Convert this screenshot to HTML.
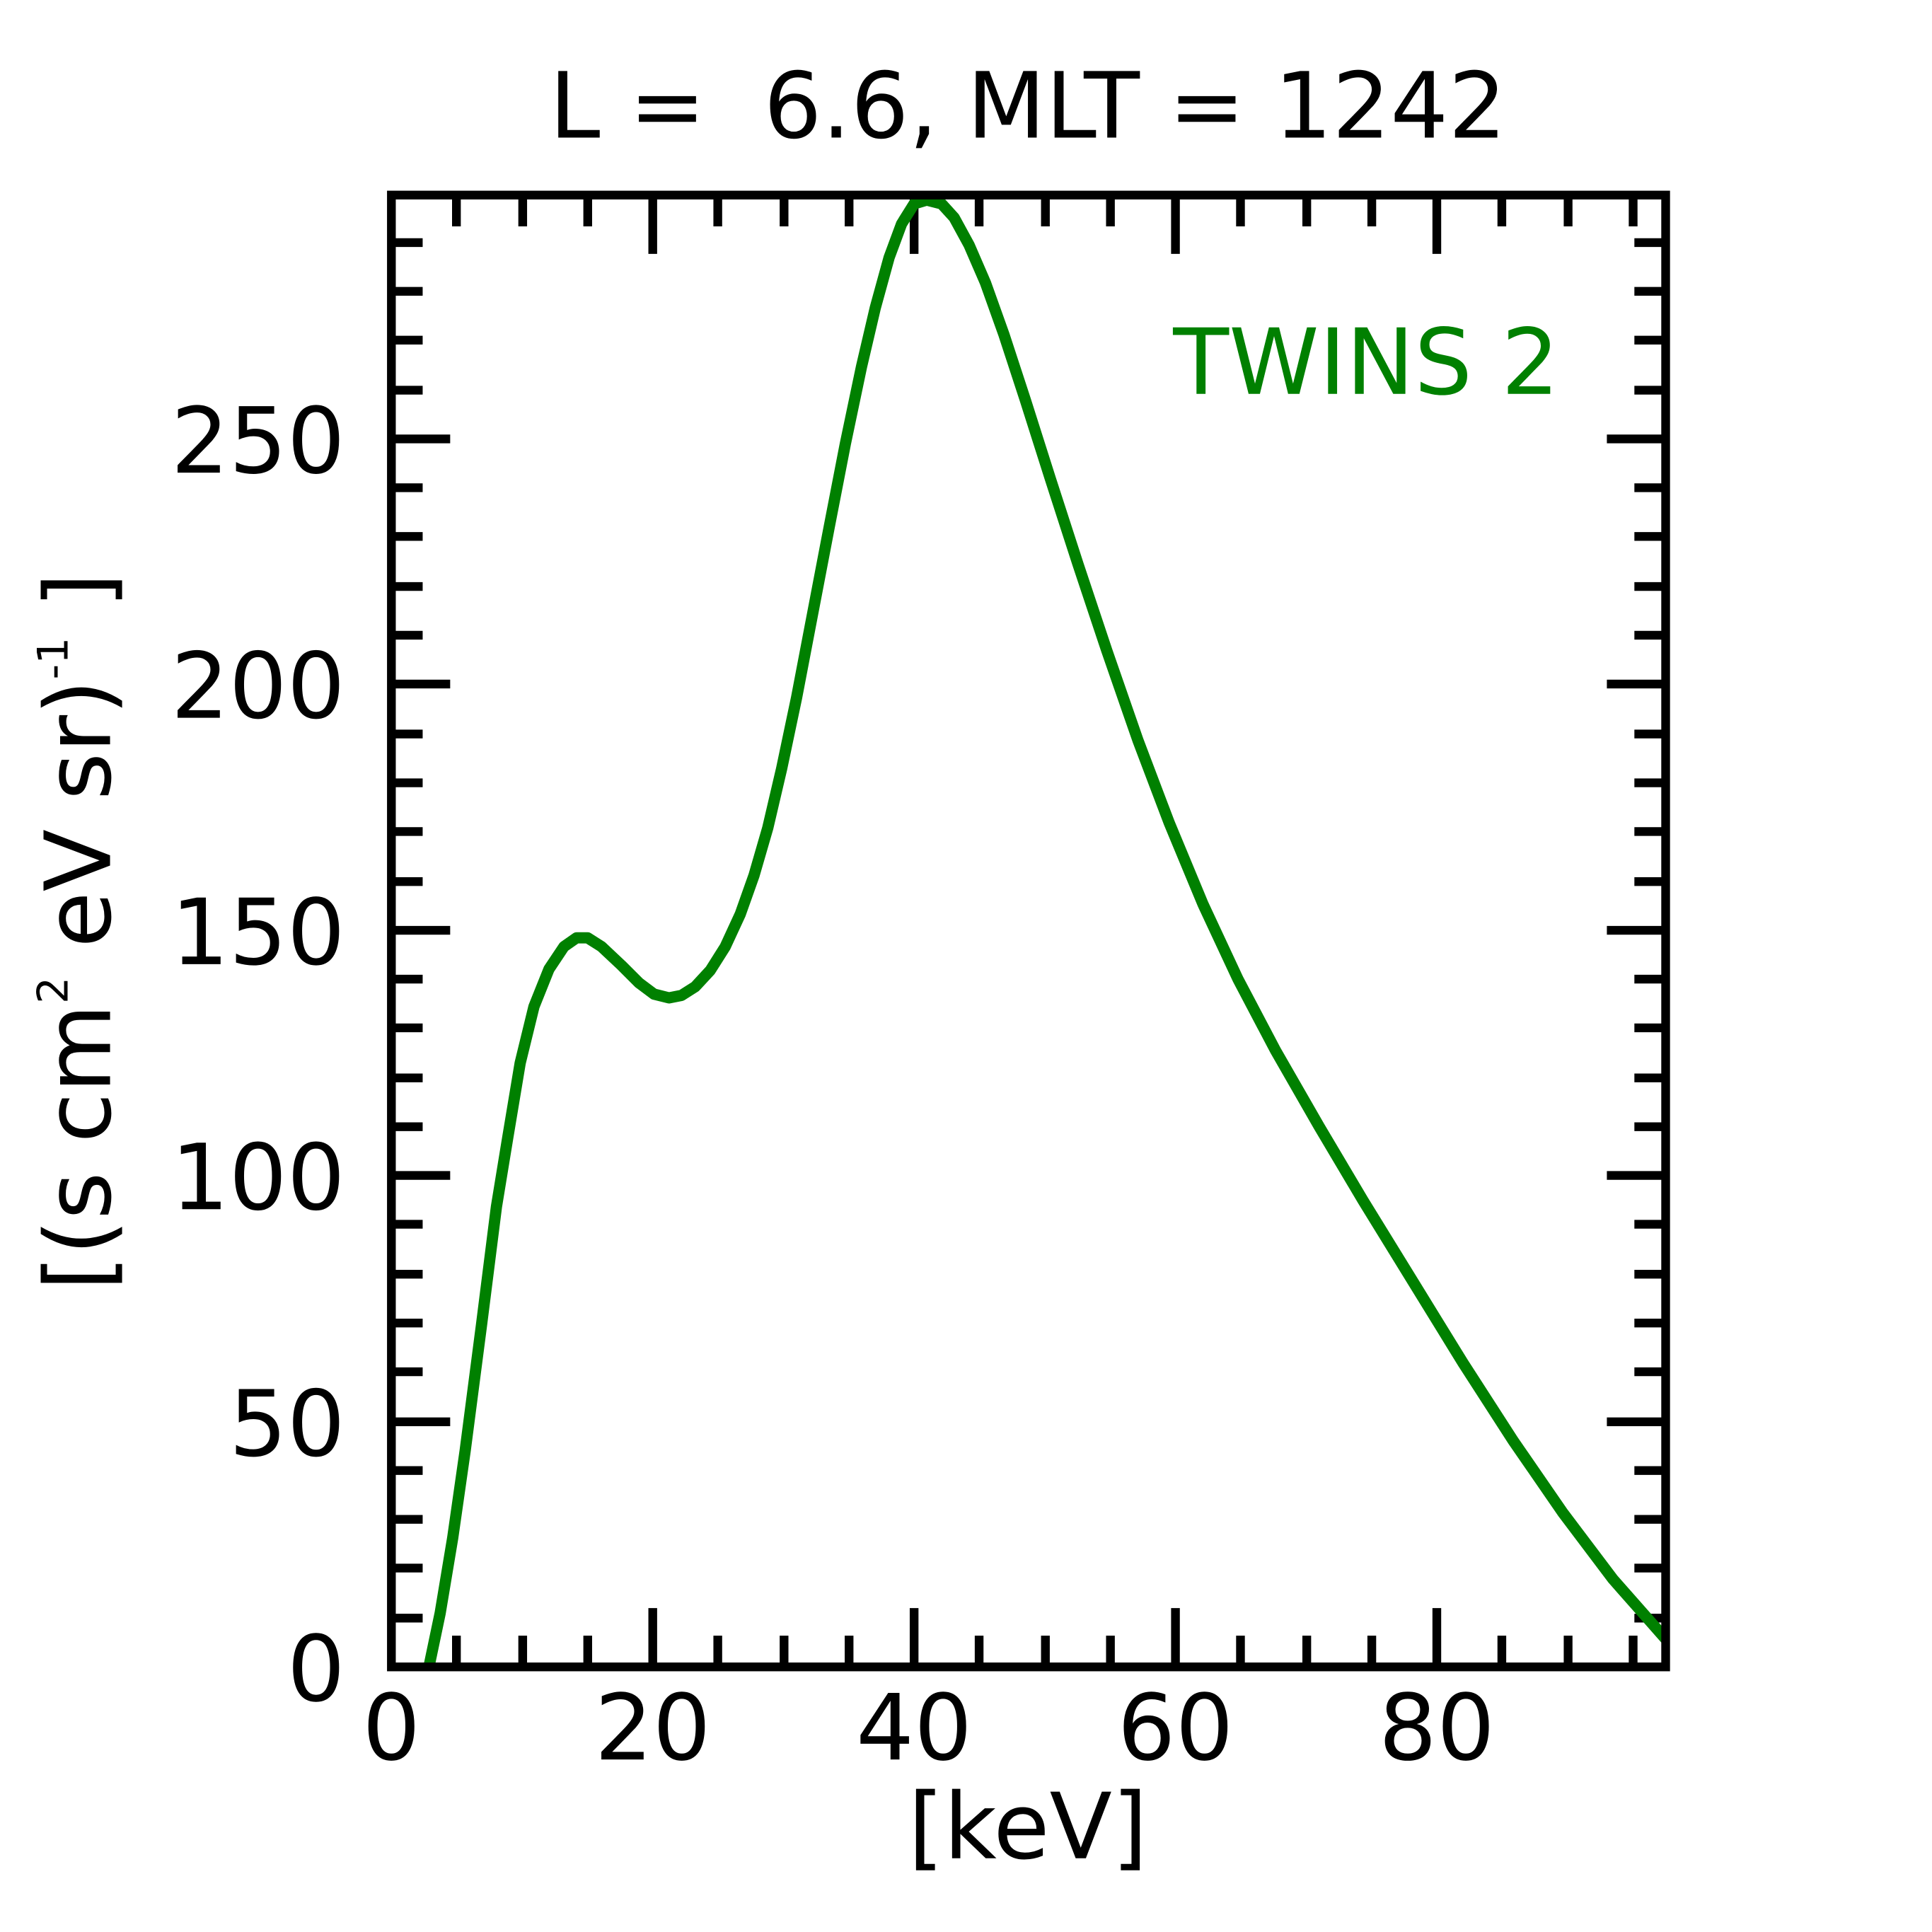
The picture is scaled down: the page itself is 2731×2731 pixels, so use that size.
<!DOCTYPE html>
<html><head><meta charset="utf-8"><style>html,body{margin:0;padding:0;background:#fff}svg{display:block}</style></head>
<body>
<svg width="2731" height="2731" viewBox="0 0 1545 1545" xmlns="http://www.w3.org/2000/svg" font-family="'DejaVu Sans','Liberation Sans',sans-serif">
<rect width="1545" height="1545" fill="#fff"/>
<defs><clipPath id="c"><rect x="313" y="156" width="1019" height="1177"/></clipPath></defs>
<g stroke="#000" stroke-width="7">
<path d="M522,1333V1286M731,1333V1286M940,1333V1286M1149,1333V1286M522,156V203M731,156V203M940,156V203M1149,156V203"/>
<path d="M365,1333V1308M418,1333V1308M470,1333V1308M574,1333V1308M627,1333V1308M679,1333V1308M783,1333V1308M836,1333V1308M888,1333V1308M992,1333V1308M1045,1333V1308M1097,1333V1308M1201,1333V1308M1254,1333V1308M1306,1333V1308
M365,156V181M418,156V181M470,156V181M574,156V181M627,156V181M679,156V181M783,156V181M836,156V181M888,156V181M992,156V181M1045,156V181M1097,156V181M1201,156V181M1254,156V181M1306,156V181"/>
<path d="M313,1137H360M313,940H360M313,744H360M313,547H360M313,351H360M1332,1137H1285M1332,940H1285M1332,744H1285M1332,547H1285M1332,351H1285"/>
<path d="M313,1294H338M313,1254H338M313,1215H338M313,1176H338M313,1097H338M313,1058H338M313,1019H338M313,979H338M313,901H338M313,862H338M313,822H338M313,783H338M313,705H338M313,665H338M313,626H338M313,587H338M313,508H338M313,469H338M313,429H338M313,390H338M313,312H338M313,272H338M313,233H338M313,194H338
M1332,1294H1307M1332,1254H1307M1332,1215H1307M1332,1176H1307M1332,1097H1307M1332,1058H1307M1332,1019H1307M1332,979H1307M1332,901H1307M1332,862H1307M1332,822H1307M1332,783H1307M1332,705H1307M1332,665H1307M1332,626H1307M1332,587H1307M1332,508H1307M1332,469H1307M1332,429H1307M1332,390H1307M1332,312H1307M1332,272H1307M1332,233H1307M1332,194H1307"/>
</g>
<polyline clip-path="url(#c)" fill="none" stroke="#008000" stroke-width="9" stroke-linejoin="round" points="343,1333 352,1290 362,1230 372,1160 385,1060 397,965 406,910 416,850 427,805 439,775 451,757 461,750 470,750 481,757 497,772 511,786 523,795 535,798 545,796 556,789 568,776 580,757 592,731 603,700 614,662 625,615 637,558 650,490 663,422 676,355 689,293 700,246 711,206 721,179 731,163 741,160 753,163 763,174 775,196 788,226 803,268 820,320 840,383 862,451 885,520 910,592 935,658 962,723 990,783 1020,840 1055,901 1090,960 1130,1025 1170,1090 1210,1152 1250,1210 1290,1263 1335,1314"/>
<rect x="313" y="156" width="1019" height="1177" fill="none" stroke="#000" stroke-width="7"/>
<g font-size="73" fill="#000">
<text x="822" y="110" text-anchor="middle">L =&#160; 6.6, MLT = 1242</text>
<g text-anchor="middle">
<text x="313" y="1407">0</text><text x="522" y="1407">20</text><text x="731" y="1407">40</text><text x="940" y="1407">60</text><text x="1149" y="1407">80</text>
</g>
<text x="822" y="1486" text-anchor="middle">[keV]</text>
<g text-anchor="end">
<text x="276" y="1360">0</text><text x="276" y="1164">50</text><text x="276" y="967">100</text><text x="276" y="771">150</text><text x="276" y="574">200</text><text x="276" y="378">250</text>
</g>
<text transform="translate(88,745) rotate(-90)" text-anchor="middle">[(s cm<tspan font-size="34" dy="-34">2</tspan><tspan dy="34"> eV sr)</tspan><tspan font-size="34" dy="-34">-1</tspan><tspan dy="34"> ]</tspan></text>
</g>
<text x="1247" y="315" font-size="73" fill="#008000" text-anchor="end">TWINS 2</text>
</svg>
</body></html>
